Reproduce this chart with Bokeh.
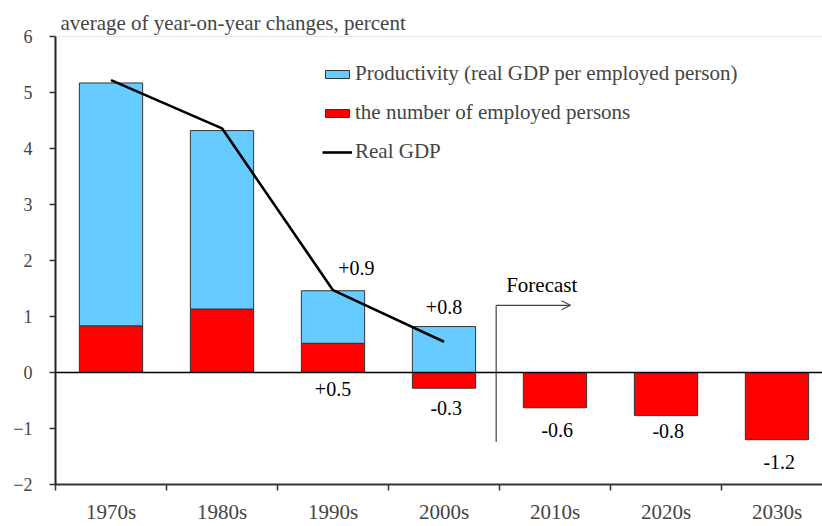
import math
from bokeh.plotting import figure
from bokeh.models import Range1d, FixedTicker, Span, Arrow, OpenHead, ColumnDataSource
from bokeh.core.properties import value
from bokeh.embed import file_html
from bokeh.resources import INLINE

decades = ["1970s", "1980s", "1990s", "2000s", "2010s", "2020s", "2030s"]
productivity = [4.34, 3.19, 0.94, 0.82, float("nan"), float("nan"), float("nan")]
employed = [0.83, 1.13, 0.52, -0.28, -0.63, -0.77, -1.20]
real_gdp = [5.22, 4.36, 1.47, 0.55]
y_ticks = [-2, -1, 0, 1, 2, 3, 4, 5, 6]

label_texts = ["+0.9", "+0.5", "+0.8", "-0.3", "-0.6", "-0.8", "-1.2"]
label_idx = [2, 2, 3, 3, 4, 5, 6]
label_kind = ["prod", "emp", "prod", "emp", "emp", "emp", "emp"]

FONT = "Liberation Serif"
BLUE = "#66CCFF"
RED = "#FF0000"

x = list(range(len(decades)))

p = figure(width=822, height=526, output_backend="svg", toolbar_location=None,
           x_range=Range1d(-0.5, 6.41), y_range=Range1d(-2, 6),
           min_border_left=55, min_border_right=0, min_border_top=36, min_border_bottom=40)

# bars
emp_src = ColumnDataSource(dict(x=x, top=employed, bottom=[0] * len(x)))
pb, pt, px = [], [], []
for i, (pr, em) in enumerate(zip(productivity, employed)):
    if not math.isnan(pr):
        b = max(em, 0)
        px.append(i); pb.append(b); pt.append(b + pr)
prod_src = ColumnDataSource(dict(x=px, bottom=pb, top=pt))

p.vbar(x="x", bottom="bottom", top="top", width=0.57, source=prod_src,
       fill_color=BLUE, line_color="#333333", line_width=1,
       legend_label="Productivity (real GDP per employed person)")
p.vbar(x="x", bottom="bottom", top="top", width=0.57, source=emp_src,
       fill_color=RED, line_color="#333333", line_width=1,
       legend_label="the number of employed persons")
p.line(x=x[:len(real_gdp)], y=real_gdp, line_color="black", line_width=2.6,
       legend_label="Real GDP")

p.add_layout(Span(location=0, dimension="width", line_color="black", line_width=1.5))
p.add_layout(Span(location=6, dimension="width", line_color="#cccccc", line_width=1))

# value labels
lx, ly, offs = [], [], []
for t, i, k in zip(label_texts, label_idx, label_kind):
    if k == "prod":
        top = max(employed[i], 0) + productivity[i]
        lx.append(i + (0.21 if i == 2 else 0.0)); ly.append(top); offs.append(-23 if i == 2 else -20)
    else:
        v = employed[i]
        if v >= 0:
            lx.append(i); ly.append(0); offs.append(16)
        else:
            lx.append(i + 0.02); ly.append(v); offs.append(15 if i == 5 else (20 if i == 3 else 22))
p.text(x=lx, y=ly, text=label_texts, y_offset=offs, text_align="center", text_baseline="middle",
       text_font=value(FONT), text_font_size="20px", text_color="black")

# forecast marker
p.segment(x0=[3.47], y0=[1.2], x1=[3.47], y1=[-1.24], line_color="#444444", line_width=1.2)
p.add_layout(Arrow(end=OpenHead(size=9, line_color="#444444", line_width=1.2),
                   x_start=3.47, y_start=1.2, x_end=4.14, y_end=1.2,
                   line_color="#444444", line_width=1.2))
p.text(x=[3.56], y=[1.57], text=["Forecast"], text_align="left", text_baseline="middle",
       text_font=value(FONT), text_font_size="21px", text_color="black")

# axes
p.xgrid.visible = False
p.ygrid.visible = False
p.outline_line_color = None
p.background_fill_color = "white"

xa = p.xaxis[0]
xa.ticker = FixedTicker(ticks=x, minor_ticks=[i - 0.5 for i in range(len(x) + 1)])
xa.major_label_overrides = {i: d for i, d in enumerate(decades)}
xa.major_tick_out = 0
xa.major_tick_in = 0
xa.minor_tick_out = 6
xa.minor_tick_in = 0
xa.minor_tick_line_color = "#333333"
xa.minor_tick_line_width = 1.5
xa.axis_line_color = "#333333"
xa.axis_line_width = 2
xa.major_label_text_font = FONT
xa.major_label_text_font_size = "21px"
xa.major_label_standoff = 9

ya = p.yaxis[0]
ya.ticker = FixedTicker(ticks=y_ticks)
ya.minor_tick_line_color = None
ya.major_tick_out = 6
ya.major_tick_in = 0
ya.major_tick_line_color = "#333333"
ya.major_tick_line_width = 1.5
ya.axis_line_color = "#222222"
ya.axis_line_width = 2
ya.major_label_text_font = FONT
ya.major_label_text_font_size = "18px"
ya.major_label_standoff = 17

p.title.text = "average of year-on-year changes, percent"
p.title.text_font = FONT
p.title.text_font_size = "21px"
p.title.text_font_style = "normal"
p.title.offset = 5
p.title.standoff = 3

lg = p.legend[0]
lg.location = (267, 320)
lg.border_line_color = None
lg.background_fill_alpha = 0
lg.label_text_font = FONT
lg.label_text_font_size = "21px"
lg.glyph_width = 30
lg.glyph_height = 10
lg.label_height = 20
lg.spacing = 14
lg.padding = 0
lg.margin = 0
lg.label_standoff = 3

open("out.html", "w").write(file_html(p, INLINE))
